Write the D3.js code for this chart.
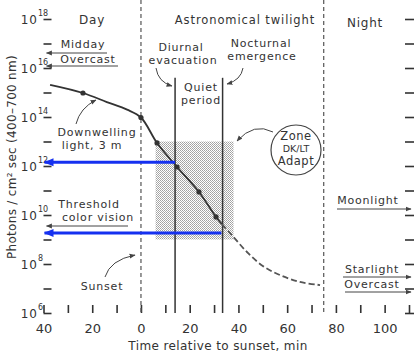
<!DOCTYPE html>
<html>
<head>
<meta charset="utf-8">
<script src="https://cdn.jsdelivr.net/npm/d3@7"></script>
<style>
  body { margin: 0; background: #fff; }
  svg { display: block; }
  text { font-family: "DejaVu Sans", sans-serif; fill: #333; }
</style>
</head>
<body>
<svg id="chart" width="414" height="358"></svg>
<script>
// minutes relative to sunset, light level as log10(photons / cm2 sec)
var curveT   = [-37.3, -23.8, -14, -5.7, 0, 6.6, 14.8, 23.8, 30.8, 33.2];
var curveLog = [15.31, 14.98, 14.61, 14.3, 13.98, 12.94, 11.96, 10.94, 9.92, 9.63];
var dashT    = [33.2, 37.3, 43.5, 50, 57, 65.2, 73.5];
var dashLog  = [9.63, 9.18, 8.49, 7.92, 7.55, 7.27, 7.14];
var dotT     = [-23.8, 0, 6.6, 14.8, 23.8, 30.8];
var dotLog   = [14.98, 13.98, 12.94, 11.96, 10.94, 9.92];

var phaseLines = [0, 75];          // sunset, end of astronomical twilight
var behaviourLines = [14, 33.5];   // diurnal evacuation, nocturnal emergence
var zoneT = [6, 38];
var zoneLog = [9, 13];
var blueT = [14, 33];
var blueLog = [12.15, 9.27];

var xTicks = d3.range(-40, 111, 10);
var xLabels = [-40, -20, 0, 20, 40, 60, 80, 100];
var yTicks = d3.range(6, 19);
var yLabels = [6, 8, 10, 12, 14, 16, 18];

var svg = d3.select('#chart');
var x = d3.scaleLinear().domain([-40, 110]).range([43.5, 409]);
var y = d3.scaleLinear().domain([6, 18]).range([313, 19]);
var left = x(-40), right = 414, bottom = y(6), top = 7;

var defs = svg.append('defs');
var pat = defs.append('pattern').attr('id', 'stip')
  .attr('width', 2).attr('height', 2).attr('patternUnits', 'userSpaceOnUse');
pat.append('rect').attr('width', 1).attr('height', 1).attr('fill', '#888');
pat.append('rect').attr('x', 1).attr('y', 1).attr('width', 1).attr('height', 1).attr('fill', '#999');

function marker(id, color, size) {
  defs.append('marker').attr('id', id)
    .attr('viewBox', '0 0 10 10').attr('refX', 9).attr('refY', 5)
    .attr('markerWidth', size).attr('markerHeight', size)
    .attr('markerUnits', 'userSpaceOnUse').attr('orient', 'auto')
    .append('path').attr('d', 'M0,1 L10,5 L0,9 Z').attr('fill', color);
}
marker('arr', '#444', 6);
marker('blue', '#1530f0', 10);

// stippled zone
svg.append('rect')
  .attr('x', x(zoneT[0])).attr('y', y(zoneLog[1]))
  .attr('width', x(zoneT[1]) - x(zoneT[0]))
  .attr('height', y(zoneLog[0]) - y(zoneLog[1]))
  .attr('fill', 'url(#stip)').attr('opacity', 0.8);

// frame
svg.append('path')
  .attr('d', 'M' + right + ',' + top + 'H' + left + 'V' + bottom + 'H' + right)
  .attr('fill', 'none').attr('stroke', '#333').attr('stroke-width', 2);

// bottom ticks (inward)
var xAxis = d3.axisBottom(x).tickValues(xTicks).tickSize(-8).tickSizeOuter(0)
  .tickFormat(function (d) { return xLabels.indexOf(d) >= 0 ? Math.abs(d) : ''; });
var gx = svg.append('g').attr('transform', 'translate(0,' + bottom + ')').call(xAxis);
gx.select('.domain').remove();
gx.selectAll('line').attr('stroke', '#333').attr('stroke-width', 1.6);
gx.selectAll('text').attr('y', 11).attr('font-size', 13).attr('fill', '#333')
  .style('font-family', '"DejaVu Sans", sans-serif');

// left ticks (inward) with 10^n labels
var yAxis = d3.axisLeft(y).tickValues(yTicks).tickSize(-8).tickSizeOuter(0).tickFormat('');
var gy = svg.append('g').attr('transform', 'translate(' + left + ',0)').call(yAxis);
gy.select('.domain').remove();
gy.selectAll('line').attr('stroke', '#333').attr('stroke-width', 1.6);
svg.append('g').selectAll('text').data(yLabels).enter().append('text')
  .attr('x', 38).attr('y', function (d) { return y(d) + 5; })
  .attr('text-anchor', 'end').attr('font-size', 12).attr('letter-spacing', 1)
  .text('10');
svg.append('g').selectAll('text').data(yLabels).enter().append('text')
  .attr('x', 38).attr('y', function (d) { return y(d) - 3; })
  .attr('font-size', 8).text(function (d) { return d; });

// right ticks
var yRight = d3.axisRight(y).tickValues(yTicks).tickSize(-9).tickSizeOuter(0).tickFormat('');
var gr = svg.append('g').attr('transform', 'translate(' + right + ',0)').call(yRight);
gr.select('.domain').remove();
gr.selectAll('line').attr('stroke', '#333').attr('stroke-width', 1.6);

// phase lines
svg.append('g').selectAll('line').data(phaseLines).enter().append('line')
  .attr('x1', x).attr('x2', x).attr('y1', top).attr('y2', bottom)
  .attr('stroke', '#555').attr('stroke-width', 1.2).attr('stroke-dasharray', '4,3');

// behaviour lines
svg.append('g').selectAll('line').data(behaviourLines).enter().append('line')
  .attr('x1', x).attr('x2', x).attr('y1', y(15.6)).attr('y2', bottom)
  .attr('stroke', '#333').attr('stroke-width', 1.5);

// light curve
var line = d3.line().x(function (d) { return x(d[0]); }).y(function (d) { return y(d[1]); })
  .curve(d3.curveCatmullRom.alpha(0.5));
svg.append('path').datum(d3.zip(curveT, curveLog)).attr('d', line)
  .attr('fill', 'none').attr('stroke', '#333').attr('stroke-width', 1.8);
svg.append('path').datum(d3.zip(dashT, dashLog)).attr('d', line)
  .attr('fill', 'none').attr('stroke', '#555').attr('stroke-width', 1.8)
  .attr('stroke-dasharray', '6,3');
svg.append('g').selectAll('circle').data(d3.zip(dotT, dotLog)).enter().append('circle')
  .attr('cx', function (d) { return x(d[0]); }).attr('cy', function (d) { return y(d[1]); })
  .attr('r', 2.6).attr('fill', '#333');

// blue arrows
svg.append('g').selectAll('line').data(d3.zip(blueT, blueLog)).enter().append('line')
  .attr('x1', function (d) { return x(d[0]); }).attr('x2', left + 1)
  .attr('y1', function (d) { return y(d[1]); }).attr('y2', function (d) { return y(d[1]); })
  .attr('stroke', '#1530f0').attr('stroke-width', 3).attr('marker-end', 'url(#blue)');

// thin reference arrows
function arrow(x1, y1, x2, y2) {
  svg.append('line').attr('x1', x1).attr('y1', y1).attr('x2', x2).attr('y2', y2)
    .attr('stroke', '#444').attr('stroke-width', 1).attr('marker-end', 'url(#arr)');
}
arrow(107, 53, left + 3, 53);
arrow(118, 66, left + 3, 66);
arrow(128, 226, left + 3, 226);
arrow(337, 209, right - 3, 209);
arrow(343, 277, right - 3, 277);
arrow(345, 292, right - 3, 292);

function curved(d) {
  svg.append('path').attr('d', d).attr('fill', 'none')
    .attr('stroke', '#444').attr('stroke-width', 1).attr('marker-end', 'url(#arr)');
}
curved('M76,124 Q80,108 96,100');
curved('M156,68 Q158,82 172,86');
curved('M243,68 Q241,80 227,84');
curved('M273,132 Q254,122 237,141');
curved('M105,277 Q110,260 135,255');

// labels
function label(t, cx, cy, size, spacing) {
  svg.append('text').attr('x', cx).attr('y', cy).attr('text-anchor', 'middle')
    .attr('font-size', size || 11).attr('letter-spacing', spacing == null ? 0.8 : spacing).text(t);
}
label('Day', 92, 24, 12);
label('Astronomical  twilight', 245, 24, 11.5, 0.9);
label('Night', 365, 27, 12);
label('Midday', 83, 48);
label('Overcast', 88, 63);
label('Diurnal', 181, 51);
label('evacuation', 183, 64);
label('Nocturnal', 261, 47);
label('emergence', 262, 60);
label('Quiet', 201, 91);
label('period', 201, 104);
label('Downwelling', 97, 136);
label('light,  3 m', 92, 149);
label('Threshold', 89, 208);
label('color  vision', 98, 221);
label('Moonlight', 368, 204);
label('Starlight', 372, 273);
label('Overcast', 372, 288);
label('Sunset', 102, 290);

// zone circle
svg.append('circle').attr('cx', 296).attr('cy', 150).attr('r', 25)
  .attr('fill', '#fff').attr('stroke', '#444').attr('stroke-width', 1.2);
label('Zone', 296, 140, 11.5, 0.5);
label('DK/LT', 296, 152, 9.5, 0);
label('Adapt', 296, 165, 11.5, 0.5);

// axis titles
svg.append('text').attr('transform', 'translate(16,157) rotate(-90)')
  .attr('text-anchor', 'middle').attr('font-size', 12).attr('letter-spacing', 0.3)
  .text('Photons / cm\u00b2 sec  (400\u2013700 nm)');
svg.append('text').attr('x', 218).attr('y', 350).attr('text-anchor', 'middle')
  .attr('font-size', 12).attr('letter-spacing', 0.4)
  .text('Time relative to  sunset,   min');
</script>
</body>
</html>
